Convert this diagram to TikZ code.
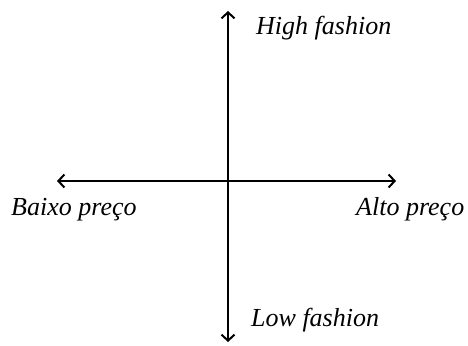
\documentclass[tikz,border=0pt]{standalone}
\usepackage{fontspec}
\setmainfont{Liberation Serif}
\usetikzlibrary{arrows.meta}
\begin{document}
\begin{tikzpicture}[x=1pt,y=-1pt,
  axis/.style={line width=2.2pt,{Straight Barb[length=6pt,width=13pt,line width=2pt]}-{Straight Barb[length=6pt,width=13pt,line width=2pt]}},
  lbl/.style={anchor=base west,inner sep=0pt,font=\fontsize{26}{30}\selectfont\itshape}]
\useasboundingbox (0,0) rectangle (468,345);
\coordinate (top) at (228,11);
\coordinate (bot) at (228,342);
\coordinate (left) at (57,181);
\coordinate (right) at (396,181);
\draw[axis] (bot) -- (top);
\draw[axis] (left) -- (right);
\node[lbl] (hf) at (256,35) {High fashion};
\node[lbl] (bp) at (11,215) {Baixo preço};
\node[lbl] (ap) at (356,215) {Alto preço};
\node[lbl] (lf) at (251,326) {Low fashion};
\end{tikzpicture}
\end{document}
